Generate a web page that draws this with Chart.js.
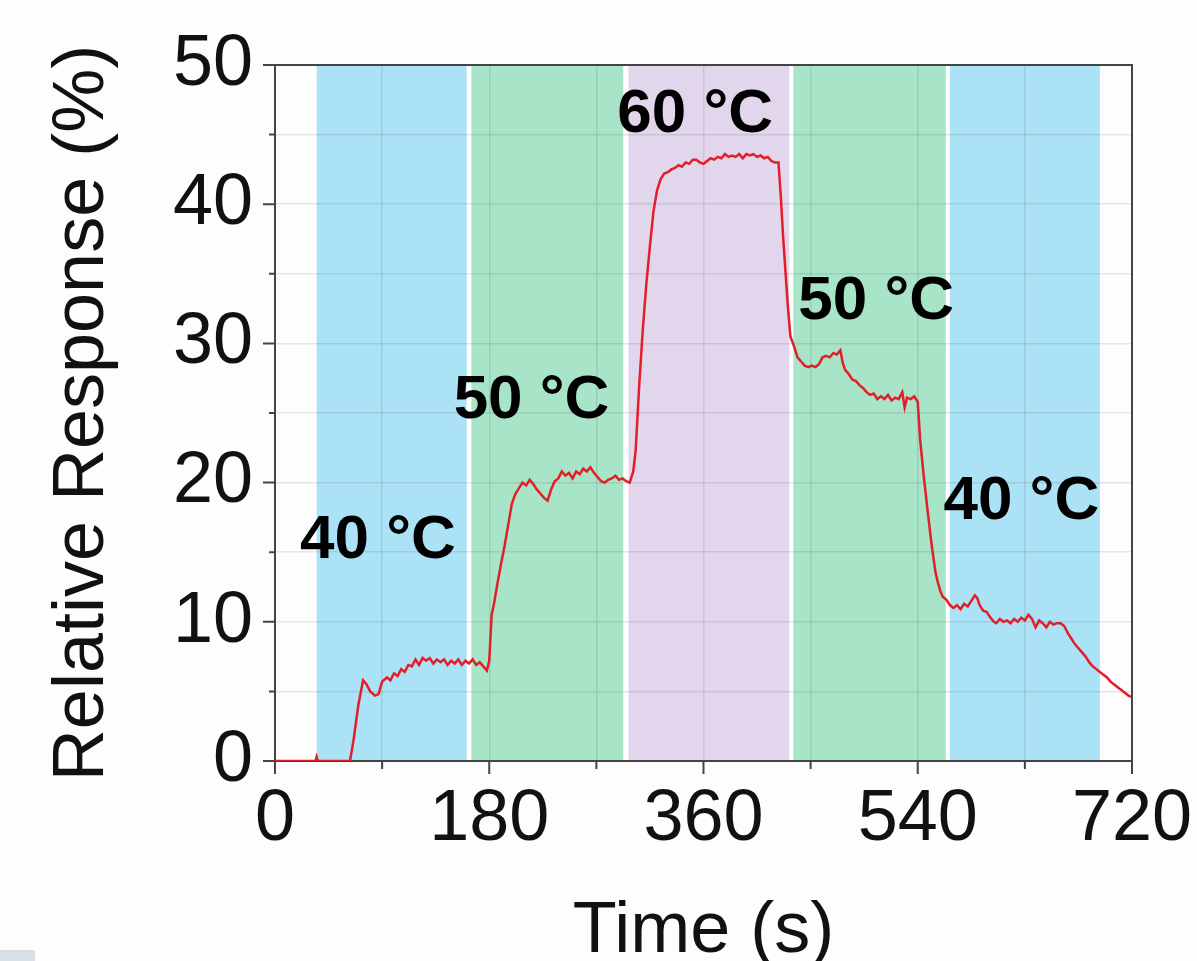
<!DOCTYPE html>
<html>
<head>
<meta charset="utf-8">
<script src="https://cdn.jsdelivr.net/npm/chart.js@4.4.1/dist/chart.umd.min.js"></script>
<style>
  html, body { margin: 0; padding: 0; background: #fdfdfd; }
  #wrap { position: relative; width: 1197px; height: 961px; }
  #corner { position: absolute; left: 0; top: 950px; width: 35px; height: 11px; background: #d8dfe7; }
</style>
</head>
<body>
<div id="wrap">
  <canvas id="myChart" width="1197" height="961"></canvas>
  <div id="corner"></div>
</div>
<script>
// time (s) and relative response (%)
const time = [
  0, 20, 34, 35, 36, 63, 66, 70, 74, 77, 80, 84, 87, 90, 94, 97, 100, 103, 106, 109,
  112, 115, 118, 121, 124, 127, 130, 133, 136, 139, 142, 145, 148, 151, 154, 157, 160, 163, 166, 169,
  172, 175, 178, 180, 182, 184, 187, 190, 193, 196, 199, 202, 205, 208, 211, 214, 217, 220, 223, 226,
  229, 232, 235, 238, 241, 244, 247, 250, 253, 256, 259, 262, 265, 268, 271, 274, 277, 280, 283, 286,
  289, 292, 295, 298, 301, 303, 306, 309, 312, 315, 318, 321, 324, 327, 330, 333, 336, 339, 342, 345,
  348, 351, 354, 357, 360, 363, 366, 369, 372, 375, 378, 381, 384, 387, 390, 393, 396, 399, 402, 405,
  408, 411, 414, 417, 420, 423, 425, 427, 429, 431, 433, 436, 439, 442, 445, 448, 451, 454, 457, 460,
  463, 466, 469, 472, 475, 477, 479, 482, 485, 488, 491, 494, 497, 500, 503, 506, 509, 512, 515, 518,
  521, 524, 527, 529, 531, 534, 537, 540, 542, 545, 548, 551, 553, 555, 557, 559, 561, 564, 567, 570,
  573, 576, 579, 582, 585, 588, 590, 592, 595, 598, 601, 604, 606, 609, 612, 615, 618, 621, 624, 627,
  630, 633, 636, 639, 642, 645, 648, 651, 654, 657, 660, 663, 666, 669, 672, 675, 678, 681, 684, 687,
  690, 693, 696, 699, 702, 705, 708, 711, 714, 717, 720
];
const response = [
  0, 0, 0, 0.3, 0, 0, 1.5, 4, 5.8, 5.5, 5.0, 4.7, 4.8, 5.7, 6.0, 5.8, 6.3, 6.1, 6.6, 6.4,
  6.9, 6.8, 7.3, 6.9, 7.4, 7.2, 7.4, 7.0, 7.3, 7.1, 7.3, 6.9, 7.2, 7.0, 7.3, 6.9, 7.2, 7.0, 7.3, 6.9,
  7.1, 6.8, 6.5, 7.2, 10.5, 11.3, 12.8, 14.2, 15.5, 17.0, 18.5, 19.2, 19.6, 20.0, 19.8, 20.2, 19.9, 19.5, 19.2, 18.9,
  18.7, 19.5, 20.1, 20.3, 20.8, 20.5, 20.7, 20.3, 20.8, 20.6, 21.0, 20.8, 21.1, 20.7, 20.4, 20.1, 20.0, 20.2, 20.3, 20.5,
  20.2, 20.3, 20.1, 20.0, 20.8, 22.3, 27, 31, 34.3, 37, 39.5, 41.0, 41.8, 42.2, 42.3, 42.5, 42.6, 42.8, 42.7, 43.0,
  42.9, 43.2, 43.2, 43.0, 42.9, 43.1, 43.3, 43.2, 43.4, 43.3, 43.6, 43.4, 43.5, 43.4, 43.6, 43.3, 43.6, 43.5, 43.6, 43.4,
  43.5, 43.3, 43.4, 43.1, 43.0, 43.0, 40.5, 37.5, 35, 32.5, 30.5, 29.8, 29.0, 28.7, 28.4, 28.3, 28.4, 28.3, 28.5, 29.0,
  29.1, 29.0, 29.3, 29.2, 29.5, 28.6, 28.1, 27.8, 27.4, 27.3, 27.0, 26.8, 26.5, 26.3, 26.4, 26.0, 26.2, 26.0, 26.3, 25.9,
  26.1, 26.0, 26.5, 25.4, 26.1, 26.0, 26.2, 25.8, 23.1, 20.5, 18.2, 16.0, 14.7, 13.5, 12.8, 12.2, 11.8, 11.6, 11.2, 11.0,
  11.2, 10.9, 11.3, 11.1, 11.5, 11.9, 11.7, 11.2, 10.8, 10.7, 10.3, 10.0, 9.9, 10.2, 10.0, 10.1, 9.9, 10.2, 10.0, 10.3,
  10.1, 10.5, 10.2, 9.6, 10.1, 9.9, 9.6, 10.0, 9.8, 9.9, 9.9, 9.7, 9.2, 8.8, 8.4, 8.1, 7.8, 7.5, 7.1, 6.8,
  6.6, 6.4, 6.2, 6.0, 5.7, 5.5, 5.3, 5.1, 4.9, 4.7, 4.6
];

// temperature stages (s)
const stageStart = [35, 165, 297, 435.5, 567];
const stageEnd = [161, 292.5, 432, 563.5, 693];
const stageTemp = [40, 50, 60, 50, 40];
// label anchors in data units
const labelTime = [86.5, 215.5, 353, 505, 627];
const labelResp = [15.8, 25.9, 46.4, 33.0, 18.6];

const xTicks = [0, 180, 360, 540, 720];
const yTicks = [0, 10, 20, 30, 40, 50];

const tempColor = { 40: "rgb(172, 226, 246)", 50: "rgb(168, 228, 199)", 60: "rgb(225, 214, 236)" };
const axisColor = "#444";
const FONT = "'Liberation Sans', Arial, sans-serif";

const points = time.map((t, i) => ({ x: t, y: response[i] }));

const stagesPlugin = {
  id: "stages",
  beforeDraw(chart) {
    const { ctx, chartArea, scales } = chart;
    ctx.save();
    stageStart.forEach((s, i) => {
      const x0 = scales.x.getPixelForValue(s);
      const x1 = scales.x.getPixelForValue(stageEnd[i]);
      ctx.fillStyle = tempColor[stageTemp[i]];
      ctx.fillRect(x0, chartArea.top, x1 - x0, chartArea.bottom - chartArea.top);
    });
    ctx.restore();
  },
  afterDraw(chart) {
    const { ctx, chartArea, scales } = chart;
    ctx.save();
    // frame top + right
    ctx.strokeStyle = axisColor;
    ctx.lineWidth = 2;
    ctx.beginPath();
    ctx.moveTo(chartArea.left, chartArea.top);
    ctx.lineTo(chartArea.right, chartArea.top);
    ctx.lineTo(chartArea.right, chartArea.bottom);
    ctx.stroke();
    // outward ticks, major longer
    ctx.beginPath();
    for (let v = 0; v <= 720; v += 90) {
      const px = scales.x.getPixelForValue(v);
      ctx.moveTo(px, chartArea.bottom);
      ctx.lineTo(px, chartArea.bottom + (v % 180 === 0 ? 13 : 8));
    }
    for (let v = 0; v <= 50; v += 5) {
      const py = scales.y.getPixelForValue(v);
      ctx.moveTo(chartArea.left, py);
      ctx.lineTo(chartArea.left - (v % 10 === 0 ? 12 : 6), py);
    }
    ctx.stroke();
    // stage labels
    ctx.fillStyle = "#000";
    ctx.font = "bold 62px " + FONT;
    ctx.textAlign = "center";
    ctx.textBaseline = "middle";
    stageTemp.forEach((t, i) => {
      ctx.fillText(t + " °C", scales.x.getPixelForValue(labelTime[i]), scales.y.getPixelForValue(labelResp[i]));
    });
    ctx.restore();
  },
};

const ctx = document.getElementById("myChart");

new Chart(ctx, {
  type: "line",
  data: {
    datasets: [
      {
        data: points,
        borderColor: "rgb(226, 30, 40)",
        borderWidth: 2.5,
        pointRadius: 0,
        tension: 0,
      },
    ],
  },
  options: {
    responsive: false,
    animation: false,
    layout: { padding: { left: 0, top: 65, right: 65, bottom: 0 } },
    scales: {
      x: {
        type: "linear",
        min: 0,
        max: 720,
        afterFit: (s) => {
          s.height = 200;
          s.paddingLeft = 0;
          s.paddingRight = 0;
        },
        ticks: {
          stepSize: 90,
          autoSkip: false,
          maxRotation: 0,
          padding: 16,
          color: "#111",
          font: { size: 72, family: FONT },
          callback: (v) => (xTicks.includes(v) ? String(v) : ""),
        },
        grid: { color: "rgba(0,0,0,0.09)", lineWidth: 1.5, drawTicks: false },
        border: { color: axisColor, width: 2 },
        title: {
          display: true,
          text: "Time (s)",
          color: "#111",
          font: { size: 72, family: FONT, lineHeight: 0.8 },
          padding: { top: 0, bottom: 0 },
        },
      },
      y: {
        min: 0,
        max: 50,
        afterFit: (s) => {
          s.width = 275;
          s.paddingTop = 0;
          s.paddingBottom = 0;
        },
        ticks: {
          stepSize: 5,
          autoSkip: false,
          padding: 22,
          color: "#111",
          font: { size: 72, family: FONT },
          callback: (v) => (yTicks.includes(v) ? String(v) : ""),
        },
        grid: { color: "rgba(0,0,0,0.09)", lineWidth: 1.5, drawTicks: false },
        border: { color: axisColor, width: 2 },
        title: {
          display: true,
          text: "Relative Response (%)",
          color: "#111",
          font: { size: 72, family: FONT, lineHeight: 1 },
          padding: { top: 47, bottom: 0 },
        },
      },
    },
    plugins: {
      legend: { display: false },
      tooltip: { enabled: false },
    },
  },
  plugins: [stagesPlugin],
});
</script>
</body>
</html>
